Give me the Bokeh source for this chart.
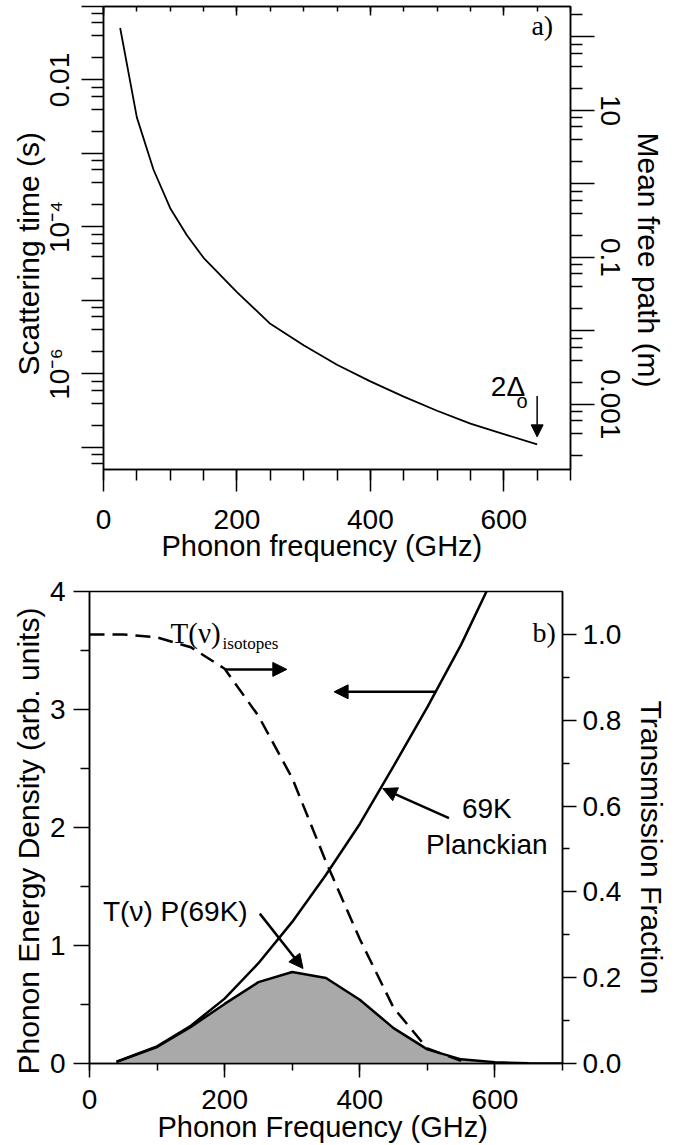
import math
from bokeh.plotting import figure
from bokeh.models import (Range1d, LogScale, LinearAxis, LogAxis, FixedTicker,
                          CustomJSTickFormatter, Arrow, NormalHead, Label, PrintfTickFormatter,
                          CustomLabelingPolicy, Title)
from bokeh.layouts import column
from bokeh.embed import file_html
from bokeh.resources import INLINE

# ---------------- data: panel a ----------------
freq_a = [25, 50, 75, 100, 125, 150, 200, 250, 300, 350, 400, 450, 500, 550, 600, 650]
tau_a = [5.1e-2, 3.1e-3, 6.0e-4, 1.8e-4, 7.7e-5, 3.8e-5, 1.3e-5, 4.8e-6, 2.45e-6,
         1.33e-6, 7.9e-7, 4.9e-7, 3.15e-7, 2.1e-7, 1.52e-7, 1.1e-7]
x_ticks_a = [0, 200, 400, 600]
tau_labels = {-2: "0.01", -4: "10\u207b\u2074", -6: "10\u207b\u2076"}
mfp_labels = {1: "10", -1: "0.1", -3: "0.001"}

# ---------------- data: panel b ----------------
freq_planck = [40, 100, 150, 200, 250, 300, 350, 400, 450, 500, 550, 600]
planck = [0.015, 0.145, 0.32, 0.55, 0.85, 1.2, 1.6, 2.03, 2.52, 3.02, 3.55, 4.15]
freq_tp = [40, 100, 150, 200, 250, 300, 350, 400, 450, 500, 550, 600, 650, 700]
tp = [0.014, 0.14, 0.31, 0.505, 0.69, 0.775, 0.725, 0.54, 0.30, 0.12, 0.035, 0.01, 0.003, 0.0]
freq_t = [0, 50, 100, 150, 200, 250, 300, 350, 400, 450, 500, 550]
trans = [1.0, 1.0, 0.993, 0.97, 0.92, 0.81, 0.665, 0.47, 0.29, 0.13, 0.035, 0.006]
x_ticks_b = [0, 200, 400, 600]
left_ticks_b = [0, 1, 2, 3, 4]
right_ticks_b = [0.0, 0.2, 0.4, 0.6, 0.8, 1.0]

SANS = "Liberation Sans"
SERIF = "Liberation Serif"
FS = "28px"

# frame geometry (page pixels)
A_L, A_R, A_T, A_B = 103, 570, 6, 469
B_L, B_R, B_T, B_B = 89, 562, 591, 1063
P1_H = 575
TOTAL_W = 676


def style_axis(ax, tick_out, minor_out):
    ax.axis_line_color = "black"
    ax.axis_line_width = 1.5
    ax.major_tick_line_color = "black"
    ax.minor_tick_line_color = "black"
    ax.major_tick_line_width = 1.5
    ax.minor_tick_line_width = 1.5
    ax.major_tick_out = tick_out
    ax.major_tick_in = 0
    ax.minor_tick_out = minor_out
    ax.minor_tick_in = 0
    ax.major_label_text_font = SANS
    ax.major_label_text_font_size = FS
    ax.major_label_text_color = "black"


def fmt_code(labels):
    items = ",".join('"%d":"%s"' % (k, v) for k, v in labels.items())
    return ("const m = {%s}; const e = Math.round(Math.log10(tick));"
            "const s = m[String(e)]; return (s === undefined) ? '' : s;") % items


def keep_policy(parity):
    return CustomLabelingPolicy(code="""
        try {
            for (const i of indices) { if (i %% 2 != %d) indices.unset(i) }
        } catch (e) {}
        return indices
    """ % parity)


NONE_POLICY = """
    try { for (const i of indices) { indices.unset(i) } } catch (e) {}
    return indices
"""


def unalign(p):
    try:
        p.frame_align = False
    except Exception:
        pass


def axis_title(p, side, text, offset, standoff, size="30px"):
    p.add_layout(Title(text=text, align="left", offset=offset, vertical_align="middle",
                       standoff=standoff, text_font=SANS, text_font_size=size,
                       text_font_style="normal", text_color="black"), side)


# ================= panel a =================
ymin_a, ymax_a = 5e-8, 0.1
p1 = figure(frame_width=A_R - A_L, frame_height=A_B - A_T, x_range=Range1d(0, 700),
            y_range=Range1d(ymin_a, ymax_a), y_axis_type="log",
            x_axis_location=None, y_axis_location=None,
            output_backend="svg", toolbar_location=None,
            min_border_left=A_L, min_border_right=TOTAL_W - A_R,
            min_border_top=A_T, min_border_bottom=P1_H - A_B)
unalign(p1)
p1.grid.visible = False
p1.outline_line_color = "black"
p1.outline_line_width = 1.5

xa = LinearAxis(ticker=FixedTicker(ticks=x_ticks_a, minor_ticks=list(range(0, 701, 50))))
style_axis(xa, 22, 11)
xa.major_label_standoff = 18
p1.add_layout(xa, "below")

xt = LinearAxis(ticker=FixedTicker(ticks=x_ticks_a, minor_ticks=list(range(0, 701, 50))))
style_axis(xt, 0, 0)
xt.major_tick_in = 9
xt.minor_tick_in = 5
xt.major_label_text_color = None
xt.major_label_standoff = 0
xt.major_label_policy = CustomLabelingPolicy(code=NONE_POLICY)
p1.add_layout(xt, "above")

decades = [10.0 ** k for k in range(-8, 4)]
minors = [m * 10.0 ** k for k in range(-8, 4) for m in (2, 4, 6, 8)]

ya = LogAxis(ticker=FixedTicker(ticks=decades, minor_ticks=minors),
             formatter=CustomJSTickFormatter(code=fmt_code(tau_labels)))
style_axis(ya, 22, 12)
ya.major_label_orientation = "parallel"
ya.major_label_standoff = 6
ya.major_label_policy = keep_policy(1)
p1.add_layout(ya, "left")

p1.extra_y_ranges = {"mfp": Range1d(1.3e-4, 260)}
p1.extra_y_scales = {"mfp": LogScale()}
yr = LogAxis(y_range_name="mfp", ticker=FixedTicker(ticks=decades, minor_ticks=minors),
             formatter=CustomJSTickFormatter(code=fmt_code(mfp_labels)))
style_axis(yr, 24, 12)
yr.major_label_orientation = "parallel"
yr.major_label_standoff = 6
yr.major_label_policy = keep_policy(0)
p1.add_layout(yr, "right")

axis_title(p1, "below", "Phonon frequency (GHz)", 58, -5, "29px")
axis_title(p1, "left", "Scattering time (s)", 94, -8)
axis_title(p1, "right", "Mean free path (m)", 126, 16)

p1.line(freq_a, tau_a, line_color="black", line_width=1.8)

p1.add_layout(Label(x=674, y=0.055, text="a)", text_font=SERIF, text_font_size=FS,
                    text_align="right", text_baseline="middle", text_color="black"))
p1.add_layout(Label(x=632, y=6.8e-7, text="2\u0394", text_font=SANS, text_font_size=FS,
                    text_align="right", text_baseline="middle", text_color="black"))
p1.add_layout(Label(x=619, y=4.3e-7, text="o", text_font=SANS, text_font_size="20px",
                    text_align="left", text_baseline="middle", text_color="black"))
p1.add_layout(Arrow(end=NormalHead(size=12, fill_color="black", line_color="black", line_width=1),
                    x_start=650, y_start=5.0e-7, x_end=650, y_end=1.39e-7,
                    line_color="black", line_width=1.5))

# ================= panel b =================
p2 = figure(frame_width=B_R - B_L, frame_height=B_B - B_T, x_range=Range1d(0, 700), y_range=Range1d(0, 4),
            x_axis_location=None, y_axis_location=None,
            output_backend="svg", toolbar_location=None,
            min_border_left=B_L, min_border_right=TOTAL_W - B_R,
            min_border_top=B_T - P1_H, min_border_bottom=1144 - B_B)
unalign(p2)
p2.grid.visible = False
p2.outline_line_color = "black"
p2.outline_line_width = 1.5
p2.extra_y_ranges = {"tr": Range1d(0, 1.1)}

xb = LinearAxis(ticker=FixedTicker(ticks=x_ticks_b, minor_ticks=list(range(0, 701, 100))))
style_axis(xb, 14, 7)
xb.major_label_standoff = 12
p2.add_layout(xb, "below")

yb = LinearAxis(ticker=FixedTicker(ticks=left_ticks_b, minor_ticks=[0.5, 1.5, 2.5, 3.5]))
style_axis(yb, 16, 9)
yb.major_label_standoff = 8
p2.add_layout(yb, "left")

yrb = LinearAxis(y_range_name="tr",
                 ticker=FixedTicker(ticks=right_ticks_b, minor_ticks=[0.1, 0.3, 0.5, 0.7, 0.9]),
                 formatter=PrintfTickFormatter(format="%.1f"))
style_axis(yrb, 14, 7)
yrb.major_label_standoff = 6
p2.add_layout(yrb, "right")

axis_title(p2, "below", "Phonon Frequency (GHz)", 68, -3, "29px")
axis_title(p2, "left", "Phonon Energy Density (arb. units)", -11, 1)
axis_title(p2, "right", "Transmission Fraction", 109, 19)

p2.varea(x=freq_tp, y1=0, y2=tp, fill_color="#a9a9a9")
p2.line(freq_tp, tp, line_color="black", line_width=2.5)
p2.line(freq_planck, planck, line_color="black", line_width=2.5)
p2.line(freq_t, trans, y_range_name="tr", line_color="black", line_width=2.5, line_dash="15 8")

p2.add_layout(Label(x=120, y=3.65, text="T(\u03bd)", text_font=SERIF, text_font_size="29px",
                    text_align="left", text_baseline="alphabetic", text_color="black"))
p2.add_layout(Label(x=197, y=3.56, text="isotopes", text_font=SERIF, text_font_size="17px",
                    text_align="left", text_baseline="alphabetic", text_color="black"))
p2.add_layout(Label(x=690, y=3.65, text="b)", text_font=SERIF, text_font_size=FS,
                    text_align="right", text_baseline="middle", text_color="black"))
p2.add_layout(Label(x=588, y=2.16, text="69K", text_font=SANS, text_font_size=FS,
                    text_align="center", text_baseline="middle", text_color="black"))
p2.add_layout(Label(x=588, y=1.86, text="Planckian", text_font=SANS, text_font_size=FS,
                    text_align="center", text_baseline="middle", text_color="black"))
p2.add_layout(Label(x=127, y=1.285, text="T(\u03bd) P(69K)", text_font=SANS, text_font_size=FS,
                    text_align="center", text_baseline="middle", text_color="black"))


def arrow(p, x0, y0, x1, y1):
    p.add_layout(Arrow(end=NormalHead(size=14, fill_color="black", line_color="black", line_width=1),
                       x_start=x0, y_start=y0, x_end=x1, y_end=y1,
                       line_color="black", line_width=2.5))


arrow(p2, 202, 3.34, 292, 3.34)
arrow(p2, 513, 3.15, 362, 3.15)
arrow(p2, 532, 2.08, 434, 2.33)
arrow(p2, 252, 1.27, 316, 0.805)

layout = column(p1, p2, spacing=0)
open("out.html", "w").write(file_html(layout, INLINE))
